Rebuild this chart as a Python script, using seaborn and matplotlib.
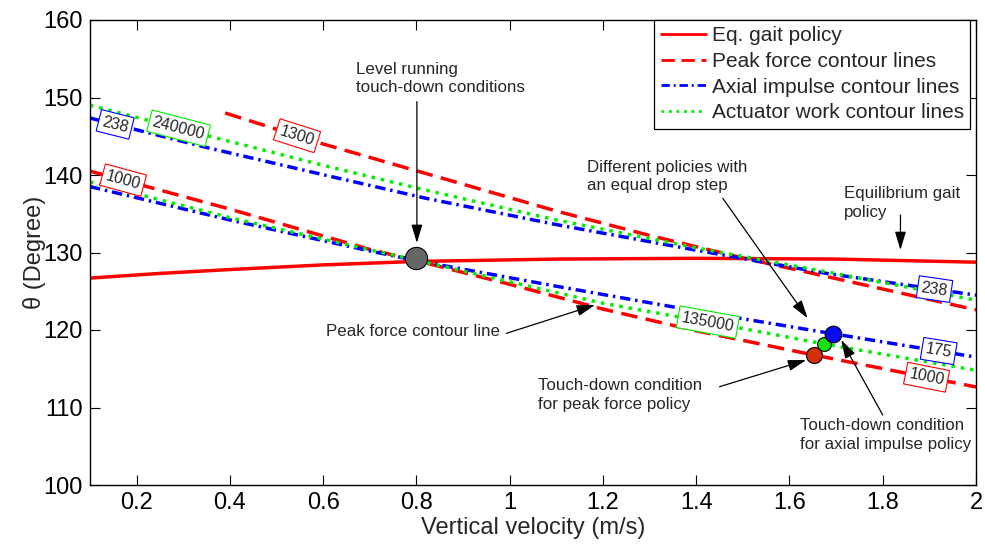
import numpy as np
import matplotlib
matplotlib.use("Agg")
import matplotlib.pyplot as plt
import seaborn as sns

# ---- data -------------------------------------------------------------
# Equilibrium gait policy (touch-down angle vs vertical velocity)
eq_v = [0.1, 0.25, 0.4, 0.6, 0.8, 1.1, 1.4, 1.7, 2.0]
eq_theta = [126.7, 127.3, 127.8, 128.4, 128.85, 129.15, 129.25, 129.15, 128.75]

# Peak force contour lines
pf1000_v = [0.1, 0.4, 0.7, 0.8, 1.0, 1.2, 1.4, 1.65, 2.0]
pf1000_theta = [140.5, 135.6, 130.4, 128.95, 125.9, 122.7, 119.9, 116.8, 112.65]
pf1300_v = [0.39, 0.6, 0.82, 1.1, 1.3, 1.5, 1.68, 2.0]
pf1300_theta = [148.0, 144.0, 140.2, 135.35, 132.2, 129.3, 126.9, 122.6]

# Axial impulse contour lines
ai175_v = [0.1, 0.4, 0.7, 0.8, 1.1, 1.4, 1.7, 2.0]
ai175_theta = [138.5, 134.2, 130.2, 128.95, 125.65, 122.45, 119.45, 116.5]
ai238_v = [0.1, 0.35, 0.61, 0.82, 1.1, 1.4, 1.68, 2.0]
ai238_theta = [147.35, 143.55, 139.9, 137.0, 133.6, 130.3, 127.3, 124.5]

# Actuator work contour lines
aw135_v = [0.1, 0.4, 0.7, 0.8, 1.2, 1.45, 1.67, 2.0]
aw135_theta = [139.1, 134.5, 130.35, 129.0, 123.45, 120.75, 118.25, 114.8]
aw240_v = [0.1, 0.35, 0.61, 0.82, 1.1, 1.4, 1.68, 2.0]
aw240_theta = [149.0, 145.1, 141.1, 138.05, 134.2, 130.6, 127.5, 123.85]

# Touch-down conditions
level_point = (0.80, 129.25)
td_v = [1.652, 1.674, 1.693]
td_theta = [116.77, 118.19, 119.48]
td_colors = ["#d4300c", "#11e011", "#0a0af0"]
td_sizes = [11.5, 10, 12]

x_ticks = [0.2, 0.4, 0.6, 0.8, 1.0, 1.2, 1.4, 1.6, 1.8, 2.0]
x_tick_labels = ["0.2", "0.4", "0.6", "0.8", "1", "1.2", "1.4", "1.6", "1.8", "2"]
y_ticks = [100, 110, 120, 130, 140, 150, 160]

# ---- style ------------------------------------------------------------
sns.set_style("ticks")
plt.rcParams["font.family"] = ["Liberation Sans", "DejaVu Sans"]

fig = plt.figure(figsize=(9.85, 5.46), dpi=100)
ax = fig.add_axes([90 / 985, 1 - 485 / 546, 886 / 985, 465 / 546])

RED, BLUE, GREEN = "#ff0000", "#0000ff", "#00ee00"
dash = (0, (4.8, 2.4))
dashdot = (0, (3.0, 1.4, 0.7, 1.4))
dotted = (0, (1.0, 1.7))
LW = 2.5


def curve(v, th, color, ls, label=None):
    sns.lineplot(x=v, y=th, ax=ax, color=color, linestyle=ls, lw=LW,
                 sort=False, estimator=None, label=label, zorder=2)


curve(eq_v, eq_theta, RED, "-", "Eq. gait policy")
curve(pf1000_v, pf1000_theta, RED, dash, "Peak force contour lines")
curve(pf1300_v, pf1300_theta, RED, dash)
curve(ai175_v, ai175_theta, BLUE, dashdot, "Axial impulse contour lines")
curve(ai238_v, ai238_theta, BLUE, dashdot)
curve(aw135_v, aw135_theta, GREEN, dotted, "Actuator work contour lines")
curve(aw240_v, aw240_theta, GREEN, dotted)

for ln in ax.get_lines():
    ln.set_dash_capstyle("butt")

# contour level labels sitting on their lines
contour_labels = [
    (ai238_v, ai238_theta, 0.154, "238", BLUE),
    (aw240_v, aw240_theta, 0.290, "240000", GREEN),
    (pf1300_v, pf1300_theta, 0.544, "1300", RED),
    (pf1000_v, pf1000_theta, 0.171, "1000", RED),
    (ai238_v, ai238_theta, 1.911, "238", BLUE),
    (aw135_v, aw135_theta, 1.425, "135000", GREEN),
    (ai175_v, ai175_theta, 1.920, "175", BLUE),
    (pf1000_v, pf1000_theta, 1.894, "1000", RED),
]
for v, th, xl, txt, col in contour_labels:
    yl = np.interp(xl, v, th)
    dy = np.interp(xl + 0.05, v, th) - np.interp(xl - 0.05, v, th)
    ang = np.degrees(np.arctan2(dy, 0.1))
    ax.text(xl, yl, txt, fontsize=11.5, ha="center", va="center",
            rotation=ang, transform_rotates_text=True, rotation_mode="anchor",
            zorder=5,
            bbox=dict(boxstyle="square,pad=0.22", fc="white", ec=col, lw=0.8))

# touch-down markers
ax.plot(*level_point, "o", ms=16, mfc="#666666", mec="black", mew=0.8, zorder=6)
for v, th, c, s in zip(td_v, td_theta, td_colors, td_sizes):
    ax.plot(v, th, "o", ms=s, mfc=c, mec="black", mew=0.8, zorder=6)

# annotations
arrow = dict(arrowstyle="-|>,head_length=0.8,head_width=0.24", color="black",
             lw=0.9, shrinkA=0, shrinkB=0, mutation_scale=14)
notes = [
    ("Level running\ntouch-down conditions", (0.670, 152.45), (0.801, 149.46), (0.801, 131.23)),
    ("Different policies with\nan equal drop step", (1.165, 139.83), (1.457, 136.99), (1.639, 121.51)),
    ("Equilibrium gait\npolicy", (1.716, 136.35), (1.838, 134.84), (1.838, 130.32)),
    ("Peak force contour line", (0.607, 119.78), (0.993, 119.57), (1.183, 123.23)),
    ("Touch-down condition\nfor peak force policy", (1.060, 111.61), (1.450, 112.68), (1.636, 116.13)),
    ("Touch-down condition\nfor axial impulse policy", (1.623, 106.45), (1.800, 109.03), (1.711, 118.71)),
]
for txt, pos, start, tip in notes:
    ax.text(pos[0], pos[1], txt, ha="left", va="center", fontsize=12.2,
            linespacing=1.3, zorder=7)
    ax.annotate("", xy=tip, xytext=start, arrowprops=arrow, zorder=7)

# axes
ax.set_xlim(0.1, 2.0)
ax.set_ylim(100, 160)
ax.set_xticks(x_ticks)
ax.set_xticklabels(x_tick_labels)
ax.set_yticks(y_ticks)
ax.tick_params(direction="in", length=7, width=0.8, top=True, right=True,
               labelsize=17, pad=5, colors="black")
for sp in ax.spines.values():
    sp.set_visible(True)
    sp.set_color("black")
    sp.set_linewidth(1.0)
ax.set_xlabel("Vertical velocity (m/s)", fontsize=17, labelpad=2)
ax.set_ylabel("θ (Degree)", fontsize=17, labelpad=-2)

leg = ax.legend(loc="upper right", bbox_to_anchor=(880 / 886, 1.0),
                borderaxespad=0, fontsize=15, frameon=True, fancybox=False,
                framealpha=1, edgecolor="black", handlelength=2.2,
                handletextpad=0.25, labelspacing=0.32, borderpad=0.3)
leg.get_frame().set_linewidth(0.9)
for h in leg.get_lines():
    h.set_linewidth(2.0)

fig.savefig("out.png", dpi=100)
